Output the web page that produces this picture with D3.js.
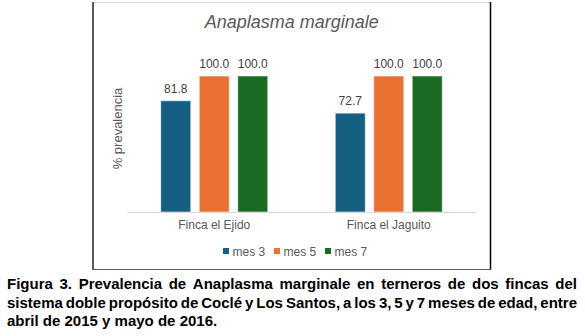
<!DOCTYPE html>
<html>
<head>
<meta charset="utf-8">
<script src="https://cdn.jsdelivr.net/npm/d3@7"></script>
<style>
  html, body { margin: 0; padding: 0; background: #fff; }
  svg { display: block; font-family: "Liberation Sans", Arial, sans-serif; }
</style>
</head>
<body>
<svg id="chart" width="585" height="336"></svg>
<script>
// ---- data ----
const farms = ["Finca el Ejido", "Finca el Jaguito"];
const seriesNames = ["mes 3", "mes 5", "mes 7"];
const mes3 = [81.8, 72.7];
const mes5 = [100.0, 100.0];
const mes7 = [100.0, 100.0];
const seriesColors = ["#156082", "#E97132", "#196B24"];
const chartTitle = "Anaplasma marginale";
const yAxisLabel = "% prevalencia";
const captionLines = [
  "Figura 3. Prevalencia de Anaplasma marginale en terneros de dos fincas del",
  "sistema doble propósito de Coclé y Los Santos, a los 3, 5 y 7 meses de edad, entre",
  "abril de 2015 y mayo de 2016."
];

const seriesValues = [mes3, mes5, mes7];
const rows = [];
farms.forEach((f, i) => {
  seriesNames.forEach((s, j) => rows.push({ farm: f, series: s, value: seriesValues[j][i] }));
});

const svg = d3.select("#chart");

// ---- chart frame ----
const box = { left: 93, top: 2, right: 491, bottom: 270 };
svg.append("line").attr("x1", box.left + 1).attr("x2", box.right).attr("y1", box.top + 0.5).attr("y2", box.top + 0.5)
  .attr("stroke", "#d9d9d9").attr("stroke-width", 1);
svg.append("line").attr("x1", box.left).attr("x2", box.left).attr("y1", box.top).attr("y2", box.bottom)
  .attr("stroke", "#595959").attr("stroke-width", 2);
svg.append("line").attr("x1", box.right - 0.5).attr("x2", box.right - 0.5).attr("y1", box.top).attr("y2", box.bottom)
  .attr("stroke", "#000").attr("stroke-width", 1.5);
svg.append("line").attr("x1", box.left).attr("x2", box.right).attr("y1", box.bottom - 0.5).attr("y2", box.bottom - 0.5)
  .attr("stroke", "#595959").attr("stroke-width", 1);

// ---- scales ----
const plot = { left: 127, right: 476, top: 48.8, bottom: 212 };
const x0 = d3.scaleBand().domain(farms).range([plot.left, plot.right]).paddingInner(0.3868).paddingOuter(0.1934);
const x1 = d3.scaleBand().domain(seriesNames).range([0, x0.bandwidth()]).paddingInner(0.22).paddingOuter(0);
const y = d3.scaleLinear().domain([0, 120]).range([plot.bottom, plot.top]);
const color = d3.scaleOrdinal().domain(seriesNames).range(seriesColors);

// ---- title ----
svg.append("text").attr("x", 291.7).attr("y", 28).attr("text-anchor", "middle")
  .attr("font-size", 18).attr("font-style", "italic").attr("fill", "#595959").text(chartTitle);

// ---- bars ----
svg.append("g").selectAll("rect").data(rows).join("rect")
  .attr("x", d => x0(d.farm) + x1(d.series))
  .attr("y", d => y(d.value))
  .attr("width", x1.bandwidth())
  .attr("height", d => y(0) - y(d.value))
  .attr("fill", d => color(d.series))
  .attr("stroke", "#ffffff").attr("stroke-opacity", 0.55).attr("stroke-width", 1);

// ---- data labels ----
svg.append("g").selectAll("text").data(rows).join("text")
  .attr("x", d => x0(d.farm) + x1(d.series) + x1.bandwidth() / 2)
  .attr("y", d => y(d.value) - 8)
  .attr("text-anchor", "middle").attr("font-size", 12).attr("fill", "#404040")
  .text(d => d3.format(".1f")(d.value));

// ---- x axis ----
const xAxis = svg.append("g").attr("transform", `translate(0,${plot.bottom})`)
  .call(d3.axisBottom(x0).tickSize(0).tickSizeOuter(0).tickPadding(8.5));
xAxis.select(".domain").attr("stroke", "#d9d9d9").attr("stroke-width", 1);
xAxis.selectAll("text").attr("font-size", 12).attr("fill", "#595959")
  .attr("font-family", "'Liberation Sans', Arial, sans-serif");

// ---- y axis label ----
svg.append("text").attr("transform", `translate(122,128.5) rotate(-90)`)
  .attr("text-anchor", "middle").attr("font-size", 13).attr("fill", "#595959").text(yAxisLabel);

// ---- legend ----
const lx = d3.scaleBand().domain(seriesNames).range([223, 376]);
const leg = svg.append("g").selectAll("g").data(seriesNames).join("g")
  .attr("transform", d => `translate(${lx(d)},248)`);
leg.append("rect").attr("width", 6).attr("height", 6).attr("fill", d => color(d));
leg.append("text").attr("x", 9.5).attr("y", 8).attr("font-size", 12).attr("fill", "#595959").text(d => d);

// ---- caption (justified) ----
const capLeft = 7, capRight = 577, capFont = 15;
const capBase = [289, 307.5, 326];
captionLines.forEach((line, i) => {
  const words = line.split(" ");
  const g = svg.append("g");
  const texts = words.map(w => g.append("text").attr("y", capBase[i]).attr("font-size", capFont)
    .attr("font-weight", "bold").attr("fill", "#000").text(w));
  const widths = texts.map(t => t.node().getComputedTextLength());
  const total = d3.sum(widths);
  const justify = i < captionLines.length - 1;
  const gap = justify ? (capRight - capLeft - total) / (words.length - 1) : capFont * 0.278;
  let cx = capLeft;
  texts.forEach((t, k) => { t.attr("x", cx); cx += widths[k] + gap; });
});
</script>
</body>
</html>
